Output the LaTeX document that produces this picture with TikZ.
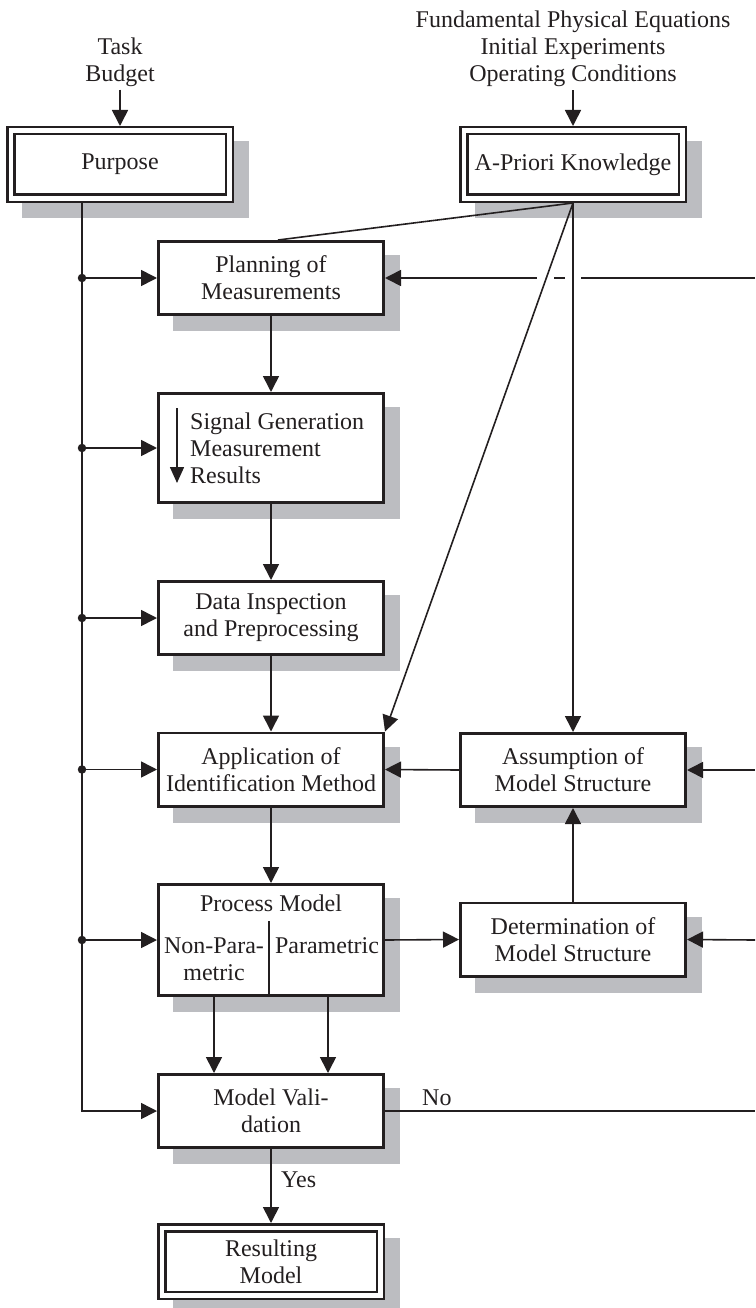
\documentclass[tikz,border=0pt]{standalone}
\usepackage{fontspec}
\setmainfont{Liberation Serif}
\usetikzlibrary{arrows.meta,calc,backgrounds}
\definecolor{ink}{RGB}{35,31,32}
\definecolor{shadowgray}{RGB}{188,189,193}

\begin{document}
\begin{tikzpicture}[x=1pt,y=-1pt,
  every node/.style={font=\fontsize{24}{27}\selectfont, text=ink},
  box/.style={draw=ink, line width=2.6pt, fill=white, minimum width=225.4pt,
    minimum height=73.4pt, align=center, inner sep=2pt},
  dbox/.style={draw=ink, double=white, line width=2.5pt, double distance=4.5pt,
    fill=white, minimum width=218.5pt, minimum height=67.5pt, outer sep=4.75pt,
    align=center, inner sep=2pt},
  conn/.style={draw=ink, line width=1.6pt},
  arr/.style={conn, -{Triangle[length=16pt,width=16pt]}},
  busdot/.style={fill=ink, circle, inner sep=0pt, minimum size=8.5pt},
  caption/.style={align=center, inner sep=0pt}
]
\useasboundingbox (0,0) rectangle (755,1308);

% inputs on top
\node[caption] (tb) at (120,62) {Task\\Budget};
\node[caption] (fpe) at (573,49) {Fundamental Physical Equations\\Initial Experiments\\Operating Conditions};

% boxes
\node[dbox] (purpose) at (120,164.5) {Purpose};
\node[dbox] (apriori) at (573,164.5) {A-Priori Knowledge};
\node[box] (plan) at (271,278) {Planning of\\Measurements};
\node[box, minimum height=109.4pt] (sig) at (271,448) {};
\node[caption, anchor=west, align=left] (sigtxt) at (190,448) {Signal Generation\\Measurement\\Results};
\node[box] (data) at (271,618) {Data Inspection\\and Preprocessing};
\node[box] (app) at (271,769.5) {Application of\\Identification Method};
\node[box] (assum) at (573,770) {Assumption of\\Model Structure};
\node[box, minimum height=111.4pt] (proc) at (271,940) {};
\node[caption] (pmtitle) at (271,903) {Process Model};
\node[caption] (nonpar) at (214,959) {Non-Para-\\metric};
\node[caption] (par) at (327,946) {Parametric};
\node[box] (det) at (573,939.5) {Determination of\\Model Structure};
\node[box] (valid) at (271,1111) {Model Vali-\\dation};
\node[dbox] (result) at (271,1261.5) {Resulting\\Model};

% drop shadows
\begin{scope}[on background layer]
  \foreach \n in {purpose,apriori,plan,sig,data,app,assum,proc,det,valid,result}
    \fill[shadowgray] ($(\n.north west)+(16,15)$) rectangle ($(\n.south east)+(15,15)$);
\end{scope}

% free ends at the right border and the left bus
\coordinate (bus) at (82,0);
\coordinate (edgeA) at (755,278);
\coordinate (edgeB) at (755,770);
\coordinate (edgeC) at (755,940);
\coordinate (edgeD) at (755,1111);

% inputs
\draw[arr, shorten <=3pt] (tb.south) -- (purpose.north);
\draw[arr, shorten <=3pt] (fpe.south) -- (apriori.north);

% feedback into planning, broken where it passes the a-priori lines
\draw[arr] (edgeA) -- (plan.east);
\coordinate (xd) at ($(apriori.south)!0.1418!(app.north east)$);
\fill[white] ($(xd |- plan.east)+(-9,-3)$) rectangle ++(17,6);
\fill[white] ($(apriori.south |- plan.east)+(-8,-3)$) rectangle ++(16,6);

% a-priori knowledge
\draw[conn] (apriori.south) -- ([xshift=7pt]plan.north);
\draw[arr] (apriori.south) -- (app.north east);
\draw[arr] (apriori.south) -- (assum.north);

% main chain
\draw[arr] (plan.south) -- (sig.north);
\draw[arr] (sig.south) -- (data.north);
\draw[arr] (data.south) -- (app.north);
\draw[arr] (app.south) -- (proc.north);
\draw[arr] ([xshift=-57pt]proc.south) -- ([xshift=-57pt]valid.north);
\draw[arr] ([xshift=57pt]proc.south) -- ([xshift=57pt]valid.north);
\draw[arr] (valid.south) -- (result.north);
\node[caption, anchor=base west] (yes) at ($(valid.south)+(10,38)$) {Yes};

% inside signal box and process model
\draw[ink, line width=1.6pt, -{Triangle[length=16pt,width=14pt]}]
  ($(sig.north west)+(20,16)$) -- ($(sig.north west)+(20,91)$);
\draw[conn] ([xshift=-2pt]proc.south) -- ++(0,-76);

% structure side
\draw[arr] (proc.east) -- (det.west);
\draw[arr] (det.north) -- (assum.south);
\draw[arr] (assum.west) -- (app.east);
\draw[arr] (edgeB) -- (assum.east);
\draw[arr] (edgeC) -- (det.east);
\draw[conn] (valid.east) -- (edgeD);
\node[caption, anchor=base west] (no) at ($(valid.east)+(37,-6)$) {No};

% purpose bus on the left
\draw[arr] (bus |- purpose.south) -- (bus |- valid.west) -- (valid.west);
\foreach \n in {plan,sig,data,app,proc} {
  \draw[arr] (bus |- \n.west) -- (\n.west);
  \node[busdot] (dot-\n) at (bus |- \n.west) {};
}
\end{tikzpicture}
\end{document}
